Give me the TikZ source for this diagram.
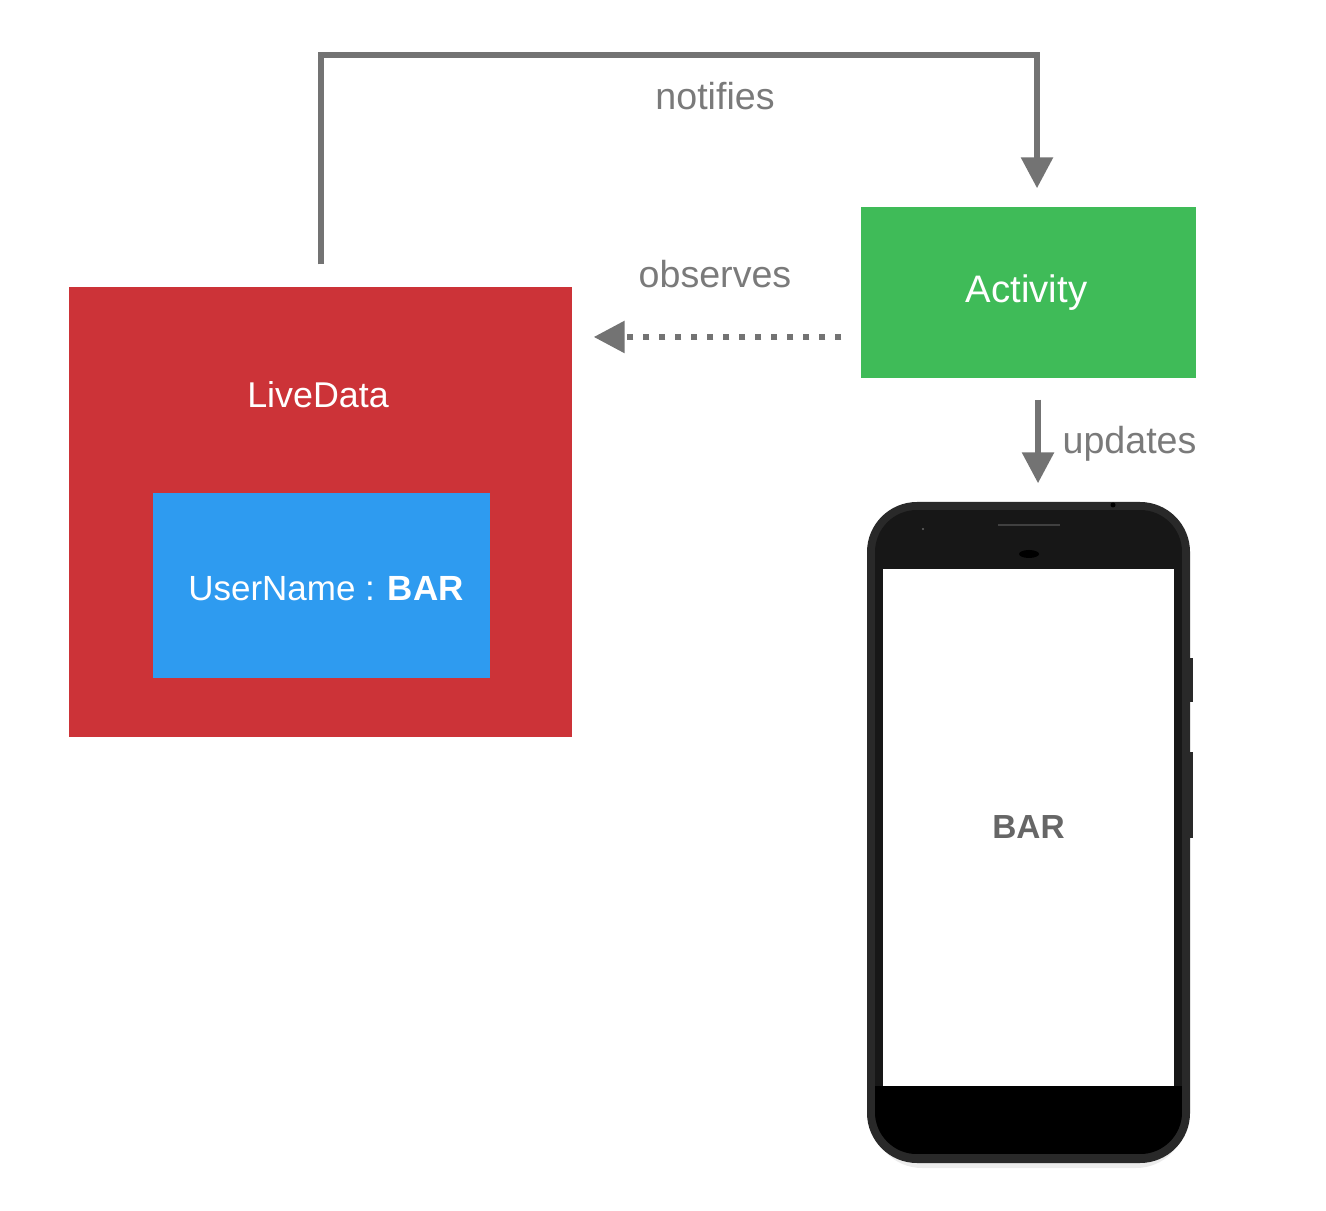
\documentclass[tikz,border=0pt]{standalone}
\usepackage{fontspec}
\setmainfont{Liberation Sans}
\usetikzlibrary{arrows.meta}
\definecolor{arrowgray}{HTML}{737373}
\definecolor{textgray}{HTML}{7A7A7A}
\definecolor{livered}{HTML}{CC3338}
\definecolor{userblue}{HTML}{2E9BF0}
\definecolor{activitygreen}{HTML}{3FBB58}
\tikzset{
  boxnode/.style={inner sep=0pt,text=white,font=\fontsize{10.2pt}{12pt}\selectfont},
  labelnode/.style={inner sep=0pt,text=textgray,font=\fontsize{10.7pt}{12pt}\selectfont},
  arrowline/.style={draw=arrowgray,line width=.06cm,-{Triangle[width=.31cm,length=.31cm]}},
  dotline/.style={arrowline,dash pattern=on .065cm off .095cm}
}
\begin{document}
\begin{tikzpicture}
\useasboundingbox(0,0)rectangle(13.26,12.1);
\node[boxnode,fill=livered,minimum width=5.03cm,minimum height=4.5cm](live)at(3.205,6.98){};
\node[boxnode](livelabel)at(3.18,8.15){LiveData};
\node[boxnode,fill=userblue,minimum width=3.37cm,minimum height=1.85cm](user)at(3.215,6.245){};
\node[boxnode,font=\fontsize{9.95pt}{12pt}\selectfont](userlabel)at(3.26,6.21){UserName : \textbf{BAR}};
\node[boxnode,fill=activitygreen,minimum width=3.35cm,minimum height=1.71cm](activity)at(10.285,9.175){};
\node[boxnode,font=\fontsize{10.9pt}{12pt}\selectfont](activitylabel)at(10.265,9.17){Activity};
% phone
\fill[gray!15,rounded corners=.5cm](8.72,.42)rectangle(11.86,1.6);
\node[fill=black!84,rounded corners=.5cm,minimum width=3.23cm,minimum height=6.61cm,inner sep=0pt](phone)at(10.285,3.775){};
\fill[black!84](11.9,5.08)rectangle(11.93,5.52);
\fill[black!84](11.9,3.72)rectangle(11.93,4.58);
\begin{scope}
\clip[rounded corners=.42cm](8.75,.56)rectangle(11.82,7);
\fill[black!91](8.75,.56)rectangle(11.82,7);
\fill[black](8.75,.56)rectangle(11.82,1.24);
\end{scope}
\node[fill=white,inner sep=0pt,minimum width=2.91cm,minimum height=5.17cm,font=\fontsize{9.5pt}{12pt}\selectfont\bfseries,text=black!60](screen)at(10.285,3.825){BAR};
\draw[black!75,line width=.02cm](9.98,6.85)--(10.6,6.85);
\fill[black](10.29,6.56)ellipse(.1 and .04);
\fill[black](11.13,7.05)circle(.025);
\fill[black!60](9.23,6.81)circle(.012);
\node[labelnode](notifies)at(7.15,11.14){notifies};
\node[labelnode](observes)at(7.15,9.36){observes};
\node[labelnode](updates)at(11.295,7.66){updates};
\draw[arrowline]([yshift=.22cm]live.north)--++(0,2.09)-|([xshift=.085cm,yshift=.18cm]activity.north);
\coordinate(obsstart)at([xshift=-.19cm,yshift=-.445cm]activity.west);
\draw[dotline,shorten >=.21cm](obsstart)--(live.east |- obsstart);
\draw[arrowline]([xshift=.095cm,yshift=-.21cm]activity.south)--([xshift=.095cm,yshift=.18cm]phone.north);
\end{tikzpicture}
\end{document}
